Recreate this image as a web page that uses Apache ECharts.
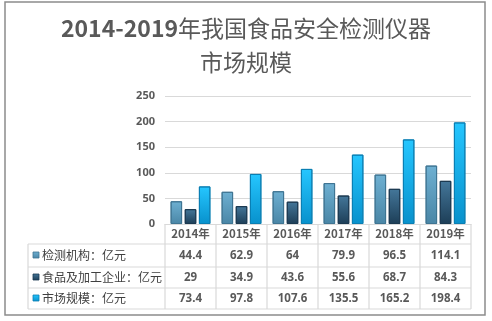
<!DOCTYPE html>
<html><head><meta charset="utf-8">
<script src="https://cdn.jsdelivr.net/npm/echarts@6/dist/echarts.min.js"></script>
<style>html,body{margin:0;padding:0;background:#fff}#c{width:492px;height:321px}</style>
</head><body><div id="c"></div>
<script>
const categories = ['2014年','2015年','2016年','2017年','2018年','2019年'];
const seriesNames = ['检测机构：亿元','食品及加工企业：亿元','市场规模：亿元'];
const inspection = [44.4, 62.9, 64, 79.9, 96.5, 114.1];
const foodEnterprise = [29, 34.9, 43.6, 55.6, 68.7, 84.3];
const marketSize = [73.4, 97.8, 107.6, 135.5, 165.2, 198.4];
const yTicks = [0, 50, 100, 150, 200, 250];

const seriesData = [inspection, foodEnterprise, marketSize];
const grads = [
  ['#6eb0d2', '#4a86a6', '#3f7593'],
  ['#44779a', '#1d3e57', '#1b3950'],
  ['#25c6ff', '#0891cc', '#0a7fb3']
];
function grad(c){
  return new echarts.graphic.LinearGradient(0,0,0,1,[{offset:0,color:c[0]},{offset:1,color:c[1]}]);
}
const chart = echarts.init(document.getElementById('c'), null, {renderer:'canvas'});
const gridL = 165, gridR = 21, gridT = 96, gridB = 97;
chart.setOption({
  animation:false,
  title:{
    left:'center', top:7, padding:5,
    text:'{b|2014-2019}{n|年我国食品安全检测仪器}\n{n|市场规模}',
    textStyle:{
      lineHeight:33.5,
      rich:{
        b:{fontFamily:'Noto Sans CJK SC', fontSize:23, fontWeight:'bold', color:'#595959', lineHeight:33.5},
        n:{fontFamily:'Noto Sans CJK SC', fontSize:23, fontWeight:'normal', color:'#595959', lineHeight:33.5}
      }
    }
  },
  grid:{left:gridL, right:gridR, top:gridT, bottom:gridB},
  xAxis:{
    type:'category', data:categories,
    axisLine:{show:true, lineStyle:{color:'#d9d9d9', width:1}},
    axisTick:{show:false},
    axisLabel:{margin:10, verticalAlign:'middle', color:'#595959', fontSize:11.5, fontWeight:'bold', fontFamily:'Noto Sans CJK SC'}
  },
  yAxis:{
    type:'value', min:yTicks[0], max:yTicks[yTicks.length-1], interval:yTicks[1]-yTicks[0],
    axisLine:{show:false}, axisTick:{show:false},
    splitLine:{lineStyle:{color:'#d9d9d9', width:1.2}},
    axisLabel:{margin:10, color:'#595959', fontSize:11, fontWeight:'bold', fontFamily:'Noto Sans'}
  },
  series: seriesData.map((d,i)=>({
    type:'bar', name:seriesNames[i], data:d,
    barWidth:11.5, barGap:'23%',
    itemStyle:{color:grad(grads[i]), borderColor:grads[i][2], borderWidth:1}
  }))
});

// data table under the axis
const rowLines = [244, 267, 288, 309];
const rowCenters = [255.5, 277.5, 298.5];
const tableLeft = 28, axisY = 224;
const xs = categories.map(c=>chart.convertToPixel({xAxisIndex:0}, c));
const half = (xs[1]-xs[0])/2;
const bounds = [xs[0]-half].concat(xs.map(x=>x+half));
const tableRight = bounds[bounds.length-1];
const g = [];
const lineStyle = {stroke:'#d9d9d9', lineWidth:1.2};
rowLines.forEach(y=>g.push({type:'line', shape:{x1:tableLeft,y1:y,x2:tableRight,y2:y}, style:lineStyle, silent:true}));
g.push({type:'line', shape:{x1:tableLeft,y1:rowLines[0],x2:tableLeft,y2:rowLines[3]}, style:lineStyle});
bounds.forEach(x=>g.push({type:'line', shape:{x1:x,y1:axisY,x2:x,y2:rowLines[3]}, style:lineStyle}));
seriesData.forEach((d,i)=>{
  const cy = rowCenters[i];
  g.push({type:'rect', shape:{x:33,y:cy-3.5,width:6,height:6}, style:{fill:grad(grads[i]), stroke:grads[i][2], lineWidth:0.8}});
  g.push({type:'text', x:42, y:cy, style:{text:seriesNames[i], fill:'#404040', font:'12px "Noto Sans CJK SC"', textVerticalAlign:'middle', textAlign:'left'}});
  d.forEach((v,j)=>{
    g.push({type:'text', x:xs[j], y:cy, style:{text:String(v), fill:'#595959', font:'bold 11.5px "Noto Sans"', textAlign:'center', textVerticalAlign:'middle'}});
  });
});
g.push({type:'rect', shape:{x:5,y:2,width:480,height:313}, style:{fill:'none', stroke:'#8c8c8c', lineWidth:1.5}});
chart.setOption({graphic:{elements:g}});
</script></body></html>
